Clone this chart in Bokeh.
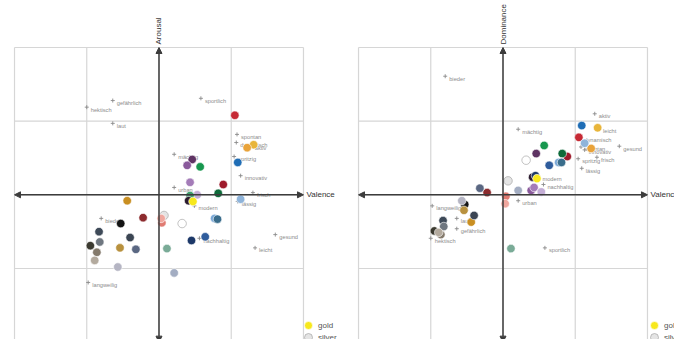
import math
from bokeh.plotting import figure
from bokeh.models import Range1d, Arrow, NormalHead, ColumnDataSource, Legend, LegendItem
from bokeh.layouts import row
from bokeh.embed import file_html
from bokeh.resources import INLINE
from bokeh.core.properties import value

# ---------------- data ----------------
grid_ticks = [-2, -1, 0, 1, 2]

color_names = ["red", "yellow", "orange", "blue", "plum", "purple", "green", "orchid",
               "darkred", "darkgreen", "lavender", "seagreen", "aubergine", "navy", "gold",
               "lightblue", "ochre", "silver", "salmon", "pink", "white", "maroon", "black",
               "skyblue", "petrol", "charcoal", "grey", "slate", "anthracite", "bronze",
               "steelgrey", "taupe", "sage", "royalblue", "beige", "lightgrey", "pigeonblue"]
color_fills = ["#c62a35", "#e8b53a", "#e9a33a", "#1f6db5", "#5e3363", "#8a5a9c", "#17974e", "#a47cb8",
               "#9e1b2c", "#0e6a3a", "#c4aed6", "#3d9b6b", "#2b1b2e", "#1c3868", "#f7e81c",
               "#8fb4da", "#c98f22", "#e4e4e4", "#e07b72", "#f0a79e", "#ffffff", "#8c2b2e", "#141414",
               "#79a7d6", "#3a6d8c", "#3e4a58", "#6f7780", "#3b4553", "#3b3a30", "#b8913e",
               "#5a6782", "#847a6c", "#7aab97", "#2f5c9c", "#b3aa9e", "#b5b5c3", "#a3adc2"]
color_valence = [1.05, 1.31, 1.22, 1.09, 0.46, 0.39, 0.57, 0.43,
                 0.89, 0.82, 0.53, 0.43, 0.41, 0.45, 0.47,
                 1.13, -0.44, 0.07, 0.04, 0.03, 0.32, -0.22, -0.53,
                 0.77, 0.81, -0.83, -0.82, -0.40, -0.95, -0.54,
                 -0.32, -0.86, 0.11, 0.64, -0.89, -0.57, 0.21]
color_arousal = [1.08, 0.68, 0.64, 0.44, 0.48, 0.40, 0.38, 0.17,
                 0.14, 0.02, 0.00, -0.01, -0.08, -0.62, -0.09,
                 -0.06, -0.08, -0.28, -0.38, -0.32, -0.39, -0.31, -0.39,
                 -0.32, -0.33, -0.50, -0.64, -0.58, -0.69, -0.72,
                 -0.74, -0.78, -0.73, -0.57, -0.89, -0.98, -1.06]
color_dominance = [0.78, 0.91, 0.63, 0.94, 0.56, 0.06, 0.67, 0.10,
                   0.52, 0.56, 0.04, 0.25, 0.24, 0.26, 0.22,
                   0.70, -0.37, 0.19, -0.02, -0.12, 0.47, 0.03, -0.13,
                   0.44, 0.44, -0.35, -0.43, -0.28, -0.49, -0.21,
                   0.09, -0.54, -0.73, 0.40, -0.51, -0.08, 0.06]

word_labels = ["hektisch", "gefährlich", "laut", "sportlich", "spontan", "dynamisch", "aktiv",
               "spritzig", "innovativ", "frisch", "lässig", "gesund", "leicht", "langweilig",
               "bieder", "mächtig", "urban", "modern", "nachhaltig"]
word_valence = [-1.00, -0.64, -0.64, 0.58, 1.08, 1.07, 1.27,
                1.04, 1.13, 1.30, 1.09, 1.61, 1.33, -0.98,
                -0.80, 0.21, 0.21, 0.49, 0.56]
word_arousal = [1.19, 1.28, 0.97, 1.31, 0.82, 0.71, 0.67,
                0.52, 0.26, 0.03, -0.09, -0.54, -0.72, -1.19,
                -0.32, 0.55, 0.10, -0.15, -0.59]
word_dominance = [-0.59, -0.46, -0.32, -0.72, 0.65, 0.78, 1.10,
                  0.49, 0.61, 0.51, 0.36, 0.66, 0.90, -0.15,
                  1.61, 0.89, -0.08, 0.25, 0.14]

legend_names = ["gold", "silver"]

# ---------------- styling ----------------
SANS = "'Liberation Sans', Arial, sans-serif"
GRID_COLOR = "#d6d6d6"
AXIS_COLOR = "#3c3c3c"

ycol_words = {"A": word_arousal, "D": word_dominance}
ycol_colors = {"A": color_arousal, "D": color_dominance}


def make_panel(ycol, ytitle, x_start, x_end, legend_x):
    p = figure(width=337, height=339, output_backend="svg", toolbar_location=None,
               x_range=Range1d(x_start, x_end), y_range=Range1d(-1.964, 2.638),
               min_border=0, outline_line_color=None)
    p.axis.visible = False
    p.grid.visible = False
    p.background_fill_color = "white"
    p.border_fill_color = "white"

    lo, hi = min(grid_ticks), max(grid_ticks)
    n = len(grid_ticks)
    p.segment(x0=grid_ticks, x1=grid_ticks, y0=[lo] * n, y1=[hi] * n,
              line_color=GRID_COLOR, line_width=1.2)
    p.segment(x0=[lo] * n, x1=[hi] * n, y0=grid_ticks, y1=grid_ticks,
              line_color=GRID_COLOR, line_width=1.2)

    for (xs, ys, xe, ye) in [(lo, 0, hi, 0), (0, lo, 0, hi)]:
        p.add_layout(Arrow(x_start=xs, y_start=ys, x_end=xe, y_end=ye,
                           line_color=AXIS_COLOR, line_width=1.5,
                           start=NormalHead(size=6, fill_color=AXIS_COLOR, line_color=AXIS_COLOR),
                           end=NormalHead(size=6, fill_color=AXIS_COLOR, line_color=AXIS_COLOR)))

    p.text(x=[hi], y=[0], text=["Valence"], x_offset=3, text_align="left",
           text_baseline="middle", text_font=value(SANS), text_font_size="8px",
           text_color="#333333")
    p.text(x=[0], y=[hi], text=[ytitle], y_offset=-3, angle=math.pi / 2, text_align="left",
           text_baseline="middle", text_font=value(SANS), text_font_size="8px",
           text_color="#333333")

    wsrc = ColumnDataSource(dict(x=word_valence, y=ycol_words[ycol], t=word_labels))
    p.scatter(x="x", y="y", source=wsrc, marker="cross", size=4, line_color="#8a8a8a",
              line_width=0.9)
    p.text(x="x", y="y", text="t", source=wsrc, x_offset=4, y_offset=2.5,
           text_align="left", text_baseline="middle", text_font=value(SANS),
           text_font_size="5.7px", text_color="#8c8c8c")

    outlines = ["#9a9a9a" if nm in ("white", "silver") else "#ffffff" for nm in color_names]
    csrc = ColumnDataSource(dict(x=color_valence, y=ycol_colors[ycol], fill=color_fills,
                                 line=outlines, name=color_names))
    r = p.scatter(x="x", y="y", source=csrc, size=8.5, fill_color="fill", line_color="line",
                  line_width=0.6)

    # one legend per entry so the rows can sit 12 px apart
    for k, nm in enumerate(legend_names):
        item = LegendItem(label=nm, renderers=[r], index=color_names.index(nm))
        leg = Legend(items=[item], location=(legend_x, 4 - 12 * k),
                     glyph_width=20, glyph_height=20, label_height=10, label_width=10,
                     spacing=0, label_standoff=0, padding=0, margin=0,
                     border_line_color=None, background_fill_alpha=0,
                     label_text_font=SANS, label_text_font_size="8px",
                     label_text_color="#555555")
        p.add_layout(leg, "center")
    return p


p1 = make_panel("A", "Arousal", -2.194, 2.471, 298)
p2 = make_panel("D", "Dominance", -2.291, 2.374, 307)

layout = row(p1, p2)
open("out.html", "w").write(file_html(layout, INLINE))
